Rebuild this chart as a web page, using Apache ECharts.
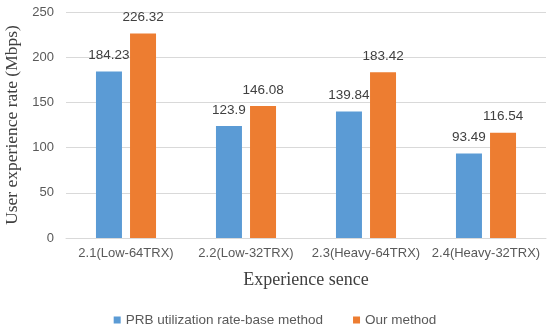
<!DOCTYPE html>
<html><head><meta charset="utf-8">
<script src="https://cdn.jsdelivr.net/npm/echarts@6/dist/echarts.min.js"></script>
<style>html,body{margin:0;padding:0;background:#fff}#c{width:550px;height:333px}</style>
</head><body><div id="c"></div>
<script>
const categories = ['2.1(Low-64TRX)', '2.2(Low-32TRX)', '2.3(Heavy-64TRX)', '2.4(Heavy-32TRX)'];
const prbValues = [184.23, 123.9, 139.84, 93.49];
const ourValues = [226.32, 146.08, 183.42, 116.54];
const seriesNames = ['PRB utilization rate-base method', 'Our method'];
const yTicks = [0, 50, 100, 150, 200, 250];

const chart = echarts.init(document.getElementById('c'), null, {renderer: 'canvas'});
const lbl = {show: true, position: 'top', color: '#404040', fontSize: 13.5, fontFamily: 'Liberation Sans, Arial', distance: 9};
chart.setOption({
  animation: false,
  textStyle: {fontFamily: 'Liberation Sans, Arial'},
  grid: {left: 66, right: 4, top: 12, bottom: 95, containLabel: false, outerBoundsMode: 'none'},
  legend: {
    bottom: 1, left: 'center', itemWidth: 7, itemHeight: 7, itemGap: 30, icon: 'rect',
    textStyle: {color: '#595959', fontSize: 13.5},
    data: seriesNames
  },
  xAxis: {
    type: 'category', data: categories,
    name: 'Experience sence', nameLocation: 'middle', nameGap: 33,
    nameTextStyle: {fontFamily: 'Liberation Serif, Times New Roman', fontSize: 18, color: '#404040'},
    axisLine: {lineStyle: {color: '#D9D9D9'}},
    axisTick: {show: false},
    axisLabel: {color: '#595959', fontSize: 13, margin: 9, interval: 0}
  },
  yAxis: {
    type: 'value', min: yTicks[0], max: yTicks[yTicks.length - 1], interval: 50,
    name: 'User experience rate (Mbps)', nameLocation: 'middle', nameGap: 43,
    nameTextStyle: {fontFamily: 'Liberation Serif, Times New Roman', fontSize: 17.5, color: '#404040'},
    axisLine: {show: false}, axisTick: {show: false},
    axisLabel: {color: '#595959', fontSize: 13, margin: 12},
    splitLine: {lineStyle: {color: '#D9D9D9'}}
  },
  series: [
    {name: seriesNames[0], type: 'bar', data: prbValues, itemStyle: {color: '#5B9BD5'}, barWidth: 26, barGap: '31%', label: lbl},
    {name: seriesNames[1], type: 'bar', data: ourValues, itemStyle: {color: '#ED7D31'}, barWidth: 26, label: lbl}
  ]
});
</script></body></html>
